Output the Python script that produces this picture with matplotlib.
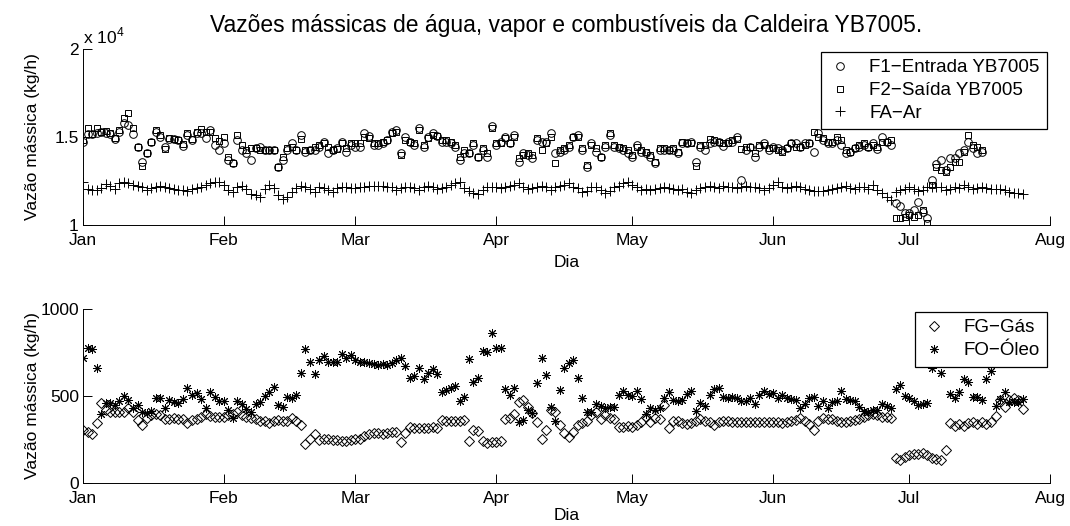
import numpy as np
import pandas as pd
import matplotlib.pyplot as plt
import matplotlib.dates as mdates
from matplotlib.markers import MarkerStyle

plt.rcParams['font.family'] = ['Liberation Sans', 'DejaVu Sans']
plt.rcParams['mathtext.fontset'] = 'custom'
plt.rcParams['mathtext.rm'] = 'Liberation Sans'

inicio = '2008-01-01'

# vazoes de agua / vapor / ar (kg/h), um valor por dia
f1_entrada = [
    14730, 15150, 15150, 15210, 15300, 15245, 15150, 14870, 15300, 15775,
    15680, 15150, 14450, 13600, 14070, 14730, 15300, 15020, 14450, 14870,
    14870, 14830, 14490, 15110, 14830, 15210, 15245, 14920, 15400, 14545,
    14260, 14640, 13690, 13500, 14830, 14260, 14070, 13690, 14355, 14450,
    14260, 14260, 14260, 13310, 13690, 14260, 14640, 14260, 15110, 14165,
    14260, 14260, 14450, 14730, 14070, 14260, 14355, 14730, 14165, 14545,
    14450, 14450, 15210, 15055, 14545, 14545,
    14640, 14830, 15300, 15400, 14070, 15020, 14730, 14545, 15490, 14450,
    15020, 15210, 15055, 14730, 14730, 14640, 14450, 13690, 14110, 14070,
    14545, 13880, 14260, 13880, 15620, 14545, 14730, 15020, 14640, 15110,
    13600, 14070, 13980, 13790, 14830, 14730, 14730, 15210, 14070, 14165,
    14260, 14450, 15020, 15110, 14260, 13310, 14640, 14165, 13880, 14450,
    15110, 14450, 14355, 14260, 14110, 13880, 14545, 14165, 14070, 13880,
    13500, 14260, 14260, 14260, 14260, 14070, 14680, 14640, 14730, 13600,
    14450,
    14260, 14640, 14730, 14730, 14490, 14730, 14730, 14980, 12560, 14260,
    14450, 13880, 14450, 14640, 14260, 14450, 14355, 14260, 14355, 14640,
    14640, 14450, 14640, 14640, 14165, 15210, 14830, 14680, 14640, 14830,
    14545, 14070, 14165, 14355, 14450, 14545, 14450, 14640, 14300, 14980,
    14730, 14545,
    11230, 11080, 10660, 10660, 10850, 11330, 10760, 10380, 12560, 13470,
    13690, 13120, 13790, 13790, 14070, 14260, 14730, 14355, 14070, 14165]

f2_saida = [
    14830, 15490, 15200, 15490, 15300, 15350, 15210, 14950, 15400, 16060,
    16340, 15490, 14450, 13350, 14100, 14730, 15400, 15100, 14300, 14920,
    14870, 14830, 14600, 15210, 14900, 15300, 15435, 15300, 15300, 14920,
    14800, 15020, 13880, 13500, 15100, 14545, 14260, 14355, 14355, 14260,
    14260, 14260, 14260, 13310, 13880, 14355, 14450, 14260, 14900, 14260,
    14260, 14450, 14545, 14640, 14450, 14260, 14300, 14640, 14355, 14640,
    14640, 14640, 15020, 14920, 14640, 14640,
    14730, 14830, 15210, 15300, 13980, 14830, 14730, 14640, 15400, 14545,
    14920, 15110, 15055, 14830, 14830, 14730, 14545, 13880, 14260, 14070,
    14640, 13880, 14355, 14070, 15490, 14640, 14640, 14920, 14640, 15020,
    13790, 13980, 14070, 13980, 14920, 14260, 14640, 15020, 13540, 14260,
    14355, 14545, 15020, 15020, 14355, 13400, 14545, 14355, 13880, 14545,
    15210, 14545, 14450, 14355, 14260, 13980, 14450, 14260, 14165, 13980,
    13600, 14355, 14355, 14260, 14355, 14165, 14730, 14640, 14640, 13350,
    14545,
    14545, 14870, 14830, 14730, 14680, 14640, 14830, 14870, 14300, 14450,
    14450, 14070, 14545, 14545, 14355, 14355, 14260, 14165, 14355, 14640,
    14450, 14450, 14545, 14680, 15300, 15020, 14920, 14730, 14730, 15020,
    14830, 14260, 14165, 14355, 14545, 14640, 14450, 14545, 14450, 14730,
    14730, 14830,
    10380, 10380, 10480, 10570, 10480, 10570, 10850, 10100, 12270, 13310,
    13125, 13030, 13310, 13600, 13600, 14165, 15110, 14545, 14450, 14260]

fa_ar = [
    12460, 12030, 11990, 11990, 12080, 12330, 12220, 12030, 12370, 12460,
    12370, 12270, 12220, 12140, 11990, 12080, 12180, 12220, 12180, 12080,
    12030, 11990, 11990, 11950, 12030, 12080, 12180, 12270, 12405, 12460,
    12460, 12270, 11990, 11900, 12140, 12220, 12030, 11760, 11700, 11610,
    12030, 12270, 12080, 11700, 11460, 11610, 11900, 12080, 12220, 12180,
    12030, 11900, 12180, 12080, 11990, 11900, 12080, 12140, 12140, 12080,
    12080, 12140, 12180, 12220, 12220, 12220,
    12220, 12140, 12140, 11990, 12080, 12140, 12140, 12080, 11990, 12140,
    12220, 12140, 12030, 12080, 12140, 12270, 12370, 12460, 12080, 11950,
    11840, 11760, 11990, 12140, 12140, 12140, 12080, 12140, 12220, 12270,
    12370, 12140, 12030, 12080, 12180, 12220, 12140, 11990, 12140, 12220,
    12270, 12370, 12140, 12080, 11900, 11950, 12140, 12180, 11990, 11800,
    11950, 12140, 12220, 12370, 12460, 12270, 12140, 11990, 12030, 11990,
    12030, 12080, 12140, 12080, 12030, 11990, 12030, 11900, 11800, 11990,
    12080,
    12140, 12220, 12140, 12080, 12220, 12140, 12140, 12080, 12140, 12220,
    12140, 12140, 12080, 11990, 12080, 12270, 12460, 12140, 12080, 12140,
    12220, 12140, 12030, 11990, 11950, 11950, 11950, 11990, 12030, 12080,
    12140, 12220, 12080, 12030, 12140, 12140, 12030, 12270, 11990, 11840,
    11570, 11420, 11900, 11990, 12030, 12140, 12030, 11950, 11990, 12140,
    12140, 12140, 12140, 11990, 12030, 12140, 12080, 12270, 12140, 12030,
    12080, 12140, 12080, 12030, 12030, 12030, 11990, 11900, 11840, 11800,
    11760]

# vazoes de combustiveis (kg/h)
fg_gas = [
    305, 291, 280, 343, 458, 419, 406, 406, 410, 410, 433, 410, 362, 333,
    372, 391, 395, 391, 368, 368, 372, 368, 368, 343, 362, 368, 381, 395,
    387, 381, 381, 381, 391, 395, 406, 391, 381, 372, 368, 356, 356, 343,
    356, 362, 356, 356, 372, 356, 333, 222, 253, 280, 247, 253, 253, 247,
    247, 241, 241, 247, 253, 253, 272, 280, 285, 285,
    280, 285, 291, 295, 234, 285, 324, 318, 318, 318, 318, 324, 318, 362,
    356, 356, 356, 356, 362, 241, 305, 299, 241, 228, 234, 237, 241, 368,
    375, 395, 467, 477, 439, 400, 352, 253, 305, 419, 410, 333, 285, 266,
    295, 333, 343, 356, 391, 410, 368, 391, 372, 368, 324, 324, 329, 324,
    333, 352, 381, 352, 372, 368, 448, 318, 356, 356, 343, 337, 343, 356,
    368,
    356, 349, 333, 349, 356, 356, 349, 352, 352, 349, 352, 352, 352, 349,
    349, 349, 349, 343, 349, 356, 362, 372, 356, 337, 305, 356, 372, 368,
    368, 356, 352, 349, 356, 362, 368, 381, 391, 395, 391, 381, 381, 372,
    145, 132, 151, 161, 165, 165, 170, 161, 145, 138, 132, 190,
    343, 326, 337, 326, 343, 352, 337, 352, 337, 352, 385, 477, 439, 477,
    487, 477, 423]

fo_oleo = [
    720, 774, 770, 659, 395, 458, 458, 448, 471, 500, 477, 429, 448, 406,
    400, 414, 486, 486, 433, 477, 463, 458, 483, 548, 506, 515, 483, 429,
    521, 496, 471, 471, 419, 372, 471, 452, 425, 406, 452, 463, 502, 521,
    554, 448, 439, 496, 486, 506, 630, 770, 693, 624, 707, 732, 693, 693,
    693, 739, 716, 736, 707, 697, 697, 688, 682, 678,
    682, 678, 688, 707, 716, 674, 601, 617, 663, 598, 630, 655, 624, 521,
    534, 548, 559, 471, 496, 713, 578, 601, 759, 755, 860, 778, 774, 540,
    506, 548, 348, 362, 419, 400, 573, 716, 621, 439, 356, 534, 663, 688,
    707, 605, 490, 410, 410, 452, 444, 429, 439, 439, 506, 529, 506, 502,
    529, 483, 395, 433, 419, 429, 486, 525, 477, 471, 477, 510, 529, 414,
    458,
    444, 506, 540, 548, 496, 490, 496, 490, 471, 471, 490, 452, 506, 529,
    510, 515, 486, 506, 490, 483, 477, 429, 452, 490, 496, 444, 471, 433,
    463, 471, 529, 483, 477, 471, 439, 414, 410, 419, 419, 452, 444, 433,
    538, 563, 500, 487, 473, 448, 454, 458, 659, np.nan, 634, np.nan,
    511, 487, 525, 596, 582, 492, 492, 477, 596, 646, 442, 481, 525, 467,
    467, 467, 481]

dias_agua = pd.date_range(inicio, periods=len(f1_entrada), freq='D')
dias_ar = pd.date_range(inicio, periods=len(fa_ar), freq='D')
dias_comb = pd.date_range(inicio, periods=len(fg_gas), freq='D')

fig = plt.figure(figsize=(10.7, 5.26), dpi=100)
ax1 = fig.add_axes([0.0776, 0.5722, 0.9037, 0.3346])
ax2 = fig.add_axes([0.0776, 0.0817, 0.9037, 0.3308])

fs = 12.5
mk = dict(linestyle='none', color='k', markerfacecolor='none', markeredgewidth=0.7)

ax1.plot(dias_agua, f1_entrada, marker='o', markersize=5.5, label='F1\u2212Entrada YB7005', **mk)
ax1.plot(dias_agua, f2_saida, marker='s', markersize=5, label='F2\u2212Saída YB7005', **mk)
ax1.plot(dias_ar, fa_ar, marker='+', markersize=6.5, label='FA\u2212Ar', **mk)

asterisco = MarkerStyle((8, 2, 0))
ax2.plot(dias_comb, fg_gas, marker='D', markersize=5, label='FG\u2212Gás', **mk)
ax2.plot(dias_comb, fo_oleo, marker=asterisco, markersize=6.5, label='FO\u2212Óleo', **mk)

for ax in (ax1, ax2):
    ax.set_xlim(pd.Timestamp('2008-01-01'), pd.Timestamp('2008-08-01'))
    ax.xaxis.set_major_locator(mdates.MonthLocator())
    ax.xaxis.set_major_formatter(mdates.DateFormatter('%b'))
    ax.spines['top'].set_visible(False)
    ax.spines['right'].set_visible(False)
    ax.spines['left'].set_linewidth(0.7)
    ax.spines['bottom'].set_linewidth(0.7)
    ax.tick_params(direction='in', length=6.5, width=0.7, labelsize=fs)
    ax.tick_params(axis='x', pad=6)
    ax.tick_params(axis='y', pad=3)
    ax.set_ylabel('Vazão mássica (kg/h)', fontsize=fs)
    ax.yaxis.set_label_coords(-0.045, 0.5)
    leg = ax.legend(loc='upper right', fontsize=13.5, numpoints=1, fancybox=False,
                    framealpha=1, edgecolor='k', handlelength=1.3,
                    handletextpad=0.9, borderpad=0.4, labelspacing=0.3,
                    borderaxespad=0.15)
    leg.get_frame().set_linewidth(0.9)

ax1.set_xlabel('Dia', fontsize=fs, labelpad=5)
ax2.set_xlabel('Dia', fontsize=fs, labelpad=1)

ax1.set_ylim(10000, 20000)
ax1.set_yticks([10000, 15000, 20000])
ax1.set_yticklabels(['1', '1.5', '2'])
ax1.text(0.0, 1.015, r'x 10$^{4}$', transform=ax1.transAxes, fontsize=fs,
         ha='left', va='bottom')

ax2.set_ylim(0, 1000)
ax2.set_yticks([0, 500, 1000])

ax1.set_title('Vazões mássicas de água, vapor e combustíveis da Caldeira YB7005.',
              fontsize=16.5, pad=12)

fig.savefig('out.png', dpi=100)
